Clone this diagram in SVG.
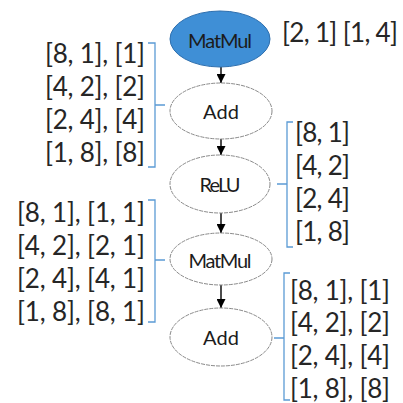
<svg xmlns="http://www.w3.org/2000/svg" width="403" height="403" viewBox="0 0 403 403">
  <style>
    .node { fill: #ffffff; stroke: #8a8a8a; stroke-width: 1; stroke-dasharray: 4 1; }
    .node.hl { fill: #3f8fd6; stroke: #2e6fae; stroke-dasharray: none; }
    .nlabel { font-family: Lato, "Open Sans", sans-serif; font-size: 20px; fill: #1c1c1c; text-anchor: middle; dominant-baseline: central; }
    .shape { font-family: Lato, "Open Sans", sans-serif; font-size: 26px; fill: #262626; }
    .brace { fill: none; stroke: #5b9bd5; stroke-width: 1.3; }
    .edge { stroke: #000000; stroke-width: 1.4; fill: none; marker-end: url(#arrow); }
  </style>
  <defs>
    <marker id="arrow" viewBox="0 0 10 10" refX="10" refY="5" markerWidth="9" markerHeight="9" markerUnits="userSpaceOnUse" orient="auto">
      <path d="M0,0 L10,5 L0,10 Z" fill="#000000"/>
    </marker>
  </defs>
  <rect width="403" height="403" fill="#ffffff"/>

  <!-- connectors between the operator nodes -->
  <g id="edges">
    <line class="edge" x1="221" y1="67" x2="221" y2="83"/>
    <line class="edge" x1="221" y1="139" x2="221" y2="155"/>
    <line class="edge" x1="221" y1="213" x2="221" y2="233"/>
    <line class="edge" x1="221" y1="285" x2="221" y2="308"/>
  </g>

  <!-- operator nodes -->
  <g id="matmul1">
    <ellipse class="node hl" cx="220" cy="39" rx="50" ry="28"/>
    <text class="nlabel" x="220" y="40" textLength="64">MatMul</text>
  </g>
  <g id="add1">
    <ellipse class="node" cx="221" cy="111" rx="51" ry="28"/>
    <text class="nlabel" x="221" y="111" textLength="36">Add</text>
  </g>
  <g id="relu">
    <ellipse class="node" cx="220" cy="184" rx="50" ry="29"/>
    <text class="nlabel" x="220" y="184" textLength="41">ReLU</text>
  </g>
  <g id="matmul2">
    <ellipse class="node" cx="221" cy="259" rx="51" ry="26"/>
    <text class="nlabel" x="220" y="260" textLength="63">MatMul</text>
  </g>
  <g id="add2">
    <ellipse class="node" cx="221" cy="337" rx="51" ry="29"/>
    <text class="nlabel" x="221" y="337" textLength="36">Add</text>
  </g>

  <!-- input shapes of the first MatMul -->
  <g id="shapes-matmul1">
    <text class="shape" x="282" y="42" textLength="116">[2, 1] [1, 4]</text>
  </g>

  <!-- shape lists with their braces -->
  <g id="shapes-add1">
    <path class="brace" d="M148,43 H155 V167 H148 M155,105 H165"/>
    <text class="shape" x="45" y="63" textLength="100">[8, 1], [1]</text>
    <text class="shape" x="45" y="96" textLength="100">[4, 2], [2]</text>
    <text class="shape" x="45" y="129" textLength="100">[2, 4], [4]</text>
    <text class="shape" x="45" y="162" textLength="100">[1, 8], [8]</text>
  </g>
  <g id="shapes-relu">
    <path class="brace" d="M293,122 H287 V247 H293 M287,184 H277"/>
    <text class="shape" x="295" y="142" textLength="55">[8, 1]</text>
    <text class="shape" x="295" y="175" textLength="55">[4, 2]</text>
    <text class="shape" x="295" y="208" textLength="55">[2, 4]</text>
    <text class="shape" x="295" y="241" textLength="55">[1, 8]</text>
  </g>
  <g id="shapes-matmul2">
    <path class="brace" d="M148,200 H155 V322 H148 M155,260 H165"/>
    <text class="shape" x="17" y="222" textLength="128">[8, 1], [1, 1]</text>
    <text class="shape" x="17" y="255" textLength="128">[4, 2], [2, 1]</text>
    <text class="shape" x="17" y="288" textLength="128">[2, 4], [4, 1]</text>
    <text class="shape" x="17" y="321" textLength="128">[1, 8], [8, 1]</text>
  </g>
  <g id="shapes-add2">
    <path class="brace" d="M290,273 H284 V400 H290 M284,338 H274"/>
    <text class="shape" x="290" y="300" textLength="100">[8, 1], [1]</text>
    <text class="shape" x="290" y="332" textLength="100">[4, 2], [2]</text>
    <text class="shape" x="290" y="365" textLength="100">[2, 4], [4]</text>
    <text class="shape" x="290" y="398" textLength="100">[1, 8], [8]</text>
  </g>
</svg>
